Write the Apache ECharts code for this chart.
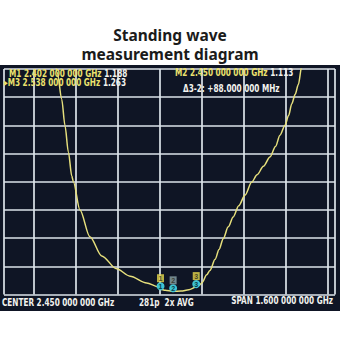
<!DOCTYPE html>
<html><head><meta charset="utf-8">
<script src="https://cdn.jsdelivr.net/npm/echarts@6/dist/echarts.min.js"></script>
<style>html,body{margin:0;padding:0;background:#ffffff;}#c{width:340px;height:340px;}</style>
</head><body><div id="c"></div>
<script>
// ---- data ----
const titleLines = ['Standing wave', 'measurement diagram'];
const freqGHz = [1.995, 2.009, 2.0255, 2.038, 2.051, 2.064, 2.070, 2.095, 2.133, 2.178,
  2.235, 2.286, 2.349, 2.394, 2.402, 2.42, 2.45, 2.48, 2.51, 2.538,
  2.55, 2.56, 2.578, 2.59, 2.61, 2.625, 2.641, 2.66, 2.679, 2.70,
  2.724, 2.749, 2.77, 2.794, 2.819, 2.84, 2.857, 2.876, 2.89, 2.902,
  2.915, 2.927, 2.94, 2.95];
const vswr = [9.7, 8.87, 7.93, 7.0, 6.05, 5.2, 5.0, 4.0, 3.05, 2.37,
  1.91, 1.65, 1.41, 1.27, 1.188, 1.15, 1.113, 1.12, 1.17, 1.263,
  1.33, 1.42, 1.70, 1.85, 2.25, 2.6, 2.98, 3.4, 3.75, 4.15,
  4.53, 4.98, 5.25, 5.55, 5.88, 6.25, 6.65, 7.0, 7.35, 7.77,
  8.1, 8.45, 9.1, 9.5];
const markerNames = ['1', '2', '3'];
const markerFreq = [2.402, 2.450, 2.538];
const markerVswr = [1.188, 1.113, 1.263];
const centerGHz = 2.45;
const spanGHz = 1.6;
const pointsText = '281p';
const avgText = '2x AVG';
const xMin = 1.92, xMax = 3.04, xStep = 0.16;
const yMin = 1, yMax = 9, yStep = 1;

// ---- helpers ----
function fmtGHz(f) {
  const s = f.toFixed(9);
  return s.slice(0, s.length - 6) + ' ' + s.slice(-6, -3) + ' ' + s.slice(-3);
}
function fmtMHz(m) {
  const s = m.toFixed(6);
  return s.slice(0, s.length - 3) + ' ' + s.slice(-3);
}
const FONT = "'DejaVu Sans Condensed', 'DejaVu Sans', sans-serif";
const YEL = '#ebe26e', WHT = '#f2f2ee', GRIDC = '#dce3ea';
const FS = 10.5;
const rich = {
  y: { fill: YEL, fontSize: FS, fontWeight: 'bold', fontFamily: FONT },
  w: { fill: WHT, fontSize: FS, fontWeight: 'bold', fontFamily: FONT }
};
function txt(x, y, text, align) {
  return { type: 'text', x: x, y: y, z: 10, silent: true, scaleX: 0.775,
    style: { text: text, rich: rich, align: align || 'left', verticalAlign: 'middle',
      fontSize: FS, fontWeight: 'bold', fontFamily: FONT, fill: WHT } };
}
const deltaMHz = (markerFreq[2] - markerFreq[1]) * 1000;
const lineStyleG = { color: GRIDC, width: 1.7 };
const titleStyle = { fontSize: 15.5, fontWeight: 'bold', fontFamily: 'Noto Sans', color: '#1b1b1b', lineHeight: 16 };

const chart = echarts.init(document.getElementById('c'), null, { renderer: 'svg' });
chart.setOption({
  backgroundColor: '#ffffff',
  animation: false,
  title: [
    { text: titleLines[0], left: 'center', top: 21.5, textStyle: titleStyle },
    { text: titleLines[1], left: 'center', top: 40.5, textStyle: titleStyle }
  ],
  grid: [
    { left: 34, right: 12, top: 69, bottom: 45.5 },  // data grid
    { left: 4, right: 5, top: 69, bottom: 45.5 }     // screen frame
  ],
  xAxis: [
    { gridIndex: 0, type: 'value', min: xMin, max: xMax, interval: xStep,
      axisLine: { show: false }, axisTick: { show: false }, axisLabel: { show: false },
      splitLine: { show: true, lineStyle: lineStyleG } },
    { gridIndex: 1, type: 'value', min: 0, max: 1, interval: 1,
      axisLine: { show: false }, axisTick: { show: false }, axisLabel: { show: false },
      splitLine: { show: true, lineStyle: lineStyleG } }
  ],
  yAxis: [
    { gridIndex: 0, type: 'value', min: yMin, max: yMax, interval: yStep,
      axisLine: { show: false }, axisTick: { show: false }, axisLabel: { show: false },
      splitLine: { show: false } },
    { gridIndex: 1, type: 'value', min: yMin, max: yMax, interval: yStep,
      axisLine: { show: false }, axisTick: { show: false }, axisLabel: { show: false },
      splitLine: { show: true, lineStyle: lineStyleG } }
  ],
  graphic: [
    { type: 'rect', z: -100, silent: true, shape: { x: 0, y: 65, width: 340, height: 246 }, style: { fill: '#0f1525' } },
    txt(9, 73, '{y|M1 ' + fmtGHz(markerFreq[0]) + ' GHz} {w|' + markerVswr[0].toFixed(3) + '}'),
    txt(4, 82, '{y|\u25B8M3 ' + fmtGHz(markerFreq[2]) + ' GHz} {w|' + markerVswr[2].toFixed(3) + '}'),
    txt(175, 72, '{y|M2 ' + fmtGHz(markerFreq[1]) + ' GHz} {w|' + markerVswr[1].toFixed(3) + '}'),
    txt(183, 88, '{w|\u03943-2: +' + fmtMHz(deltaMHz) + ' MHz}'),
    txt(2, 302, '{w|CENTER ' + fmtGHz(centerGHz) + ' GHz}'),
    txt(139, 302, '{w|' + pointsText + '  ' + avgText + '}'),
    txt(333, 300, '{w|SPAN ' + fmtGHz(spanGHz) + ' GHz}', 'right')
  ],
  series: [
    {
      type: 'line', xAxisIndex: 0, yAxisIndex: 0,
      data: freqGHz.map((f, i) => [f, vswr[i]]),
      showSymbol: false, smooth: 0.3, smoothMonotone: 'x',
      lineStyle: { color: '#e6df7c', width: 1.5 },
      markPoint: {
        symbol: 'circle', symbolSize: 8, symbolOffset: [0, -3],
        itemStyle: { color: '#3ec4d4' },
        label: { show: true, formatter: p => p.name, fontSize: 7, fontWeight: 'bold', color: '#0c3b46' },
        data: markerFreq.map((f, i) => ({ name: markerNames[i], coord: [f, markerVswr[i]] }))
      }
    },
    {
      type: 'scatter', xAxisIndex: 0, yAxisIndex: 0,
      symbol: 'rect', symbolSize: [7, 8], symbolOffset: [0, -11],
      data: markerFreq.map((f, i) => ({ value: [f, markerVswr[i]], name: markerNames[i],
        itemStyle: { color: i === 1 ? '#8aa3a6' : '#e6d84c' } })),
      label: { show: true, position: 'inside', formatter: p => p.name, fontSize: 7, fontWeight: 'bold', color: '#2a2a1a' },
      z: 5
    }
  ]
});
</script></body></html>
